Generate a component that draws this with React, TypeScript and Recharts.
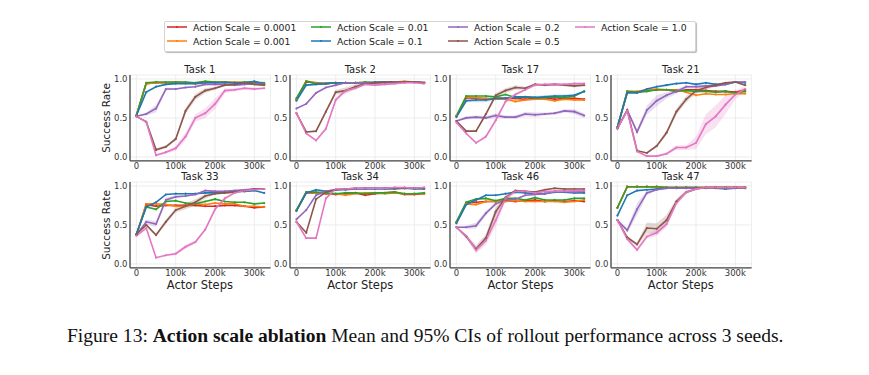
import { ComposedChart, Line, Area, XAxis, YAxis, CartesianGrid } from 'recharts'

const steps = [0, 25000, 50000, 75000, 100000, 125000, 150000, 175000, 200000, 225000, 250000, 275000, 300000, 325000]
const scales = ['0.0001', '0.001', '0.01', '0.1', '0.2', '0.5', '1.0']
const colors = ['#d62728', '#ff7f0e', '#2ca02c', '#1f77b4', '#9467bd', '#8c564b', '#e377c2']
const xTicks = [0, 100000, 200000, 300000]
const yTicks = [0, 0.5, 1]

// mean success rate, one row per action scale (same order as `scales`)
const task1 = [
  [0.53, 0.94, 0.95, 0.95, 0.95, 0.95, 0.95, 0.96, 0.95, 0.96, 0.95, 0.95, 0.95, 0.94],
  [0.53, 0.94, 0.95, 0.95, 0.96, 0.95, 0.94, 0.95, 0.96, 0.95, 0.96, 0.95, 0.94, 0.93],
  [0.53, 0.95, 0.96, 0.96, 0.96, 0.96, 0.95, 0.97, 0.96, 0.96, 0.95, 0.96, 0.96, 0.95],
  [0.53, 0.83, 0.9, 0.93, 0.94, 0.94, 0.94, 0.95, 0.95, 0.95, 0.95, 0.95, 0.97, 0.93],
  [0.52, 0.55, 0.62, 0.87, 0.87, 0.89, 0.9, 0.93, 0.93, 0.93, 0.92, 0.93, 0.94, 0.93],
  [0.52, 0.45, 0.09, 0.13, 0.23, 0.59, 0.77, 0.85, 0.88, 0.92, 0.93, 0.95, 0.93, 0.92],
  [0.52, 0.45, 0.02, 0.06, 0.11, 0.26, 0.5, 0.56, 0.68, 0.85, 0.86, 0.88, 0.87, 0.88],
]
const task2 = [
  [0.73, 0.96, 0.95, 0.94, 0.95, 0.95, 0.95, 0.95, 0.95, 0.96, 0.96, 0.96, 0.96, 0.95],
  [0.74, 0.97, 0.95, 0.94, 0.95, 0.95, 0.95, 0.95, 0.95, 0.96, 0.96, 0.97, 0.96, 0.95],
  [0.75, 0.97, 0.94, 0.94, 0.95, 0.95, 0.95, 0.96, 0.95, 0.95, 0.96, 0.96, 0.96, 0.95],
  [0.72, 0.92, 0.93, 0.94, 0.95, 0.95, 0.95, 0.95, 0.96, 0.96, 0.96, 0.96, 0.96, 0.95],
  [0.62, 0.68, 0.82, 0.89, 0.92, 0.95, 0.95, 0.95, 0.95, 0.95, 0.96, 0.96, 0.96, 0.95],
  [0.56, 0.32, 0.33, 0.58, 0.83, 0.85, 0.9, 0.94, 0.95, 0.96, 0.96, 0.96, 0.96, 0.95],
  [0.56, 0.3, 0.21, 0.36, 0.73, 0.85, 0.88, 0.93, 0.92, 0.93, 0.94, 0.95, 0.95, 0.94],
]
const task17 = [
  [0.52, 0.76, 0.75, 0.74, 0.75, 0.75, 0.75, 0.74, 0.75, 0.76, 0.74, 0.75, 0.75, 0.74],
  [0.53, 0.77, 0.76, 0.75, 0.74, 0.74, 0.71, 0.73, 0.74, 0.74, 0.72, 0.74, 0.73, 0.73],
  [0.52, 0.78, 0.78, 0.78, 0.77, 0.8, 0.76, 0.77, 0.76, 0.76, 0.77, 0.76, 0.78, 0.84],
  [0.51, 0.72, 0.73, 0.73, 0.75, 0.75, 0.77, 0.77, 0.76, 0.77, 0.78, 0.78, 0.79, 0.84],
  [0.46, 0.5, 0.51, 0.5, 0.53, 0.51, 0.51, 0.55, 0.54, 0.55, 0.56, 0.59, 0.58, 0.53],
  [0.46, 0.33, 0.33, 0.55, 0.79, 0.85, 0.89, 0.88, 0.93, 0.92, 0.93, 0.92, 0.91, 0.92],
  [0.44, 0.3, 0.18, 0.26, 0.47, 0.71, 0.8, 0.86, 0.92, 0.93, 0.93, 0.93, 0.94, 0.94],
]
const task21 = [
  [0.38, 0.83, 0.83, 0.85, 0.86, 0.86, 0.84, 0.86, 0.86, 0.85, 0.84, 0.84, 0.83, 0.86],
  [0.38, 0.84, 0.84, 0.86, 0.87, 0.86, 0.86, 0.83, 0.79, 0.81, 0.8, 0.8, 0.81, 0.81],
  [0.37, 0.84, 0.83, 0.84, 0.86, 0.86, 0.85, 0.85, 0.84, 0.84, 0.83, 0.84, 0.82, 0.84],
  [0.38, 0.82, 0.82, 0.87, 0.9, 0.92, 0.94, 0.95, 0.93, 0.95, 0.93, 0.93, 0.96, 0.95],
  [0.36, 0.6, 0.32, 0.6, 0.72, 0.79, 0.84, 0.9, 0.9, 0.91, 0.91, 0.93, 0.96, 0.96],
  [0.37, 0.6, 0.08, 0.05, 0.14, 0.31, 0.58, 0.74, 0.85, 0.89, 0.92, 0.95, 0.96, 0.92],
  [0.37, 0.59, 0.07, 0.01, 0.01, 0.04, 0.12, 0.12, 0.18, 0.42, 0.52, 0.67, 0.8, 0.87],
]
const task33 = [
  [0.37, 0.76, 0.74, 0.75, 0.75, 0.75, 0.75, 0.74, 0.74, 0.75, 0.75, 0.74, 0.72, 0.73],
  [0.37, 0.77, 0.77, 0.76, 0.74, 0.74, 0.77, 0.76, 0.78, 0.77, 0.77, 0.74, 0.74, 0.73],
  [0.38, 0.73, 0.7, 0.8, 0.81, 0.78, 0.77, 0.8, 0.83, 0.8, 0.79, 0.79, 0.77, 0.78],
  [0.38, 0.73, 0.79, 0.89, 0.9, 0.9, 0.9, 0.91, 0.91, 0.92, 0.93, 0.93, 0.94, 0.91],
  [0.37, 0.54, 0.51, 0.82, 0.86, 0.87, 0.89, 0.94, 0.93, 0.93, 0.94, 0.95, 0.96, 0.96],
  [0.38, 0.5, 0.37, 0.54, 0.69, 0.74, 0.79, 0.87, 0.9, 0.91, 0.92, 0.94, 0.96, 0.96],
  [0.36, 0.46, 0.08, 0.11, 0.13, 0.22, 0.28, 0.44, 0.7, 0.84, 0.91, 0.94, 0.95, 0.96],
]
const task34 = [
  [0.68, 0.91, 0.91, 0.9, 0.89, 0.9, 0.91, 0.88, 0.9, 0.91, 0.92, 0.89, 0.89, 0.9],
  [0.68, 0.92, 0.91, 0.9, 0.9, 0.88, 0.9, 0.91, 0.91, 0.9, 0.91, 0.9, 0.9, 0.9],
  [0.69, 0.92, 0.92, 0.91, 0.9, 0.91, 0.91, 0.9, 0.91, 0.91, 0.92, 0.9, 0.9, 0.91],
  [0.68, 0.91, 0.95, 0.93, 0.95, 0.95, 0.96, 0.96, 0.96, 0.96, 0.96, 0.97, 0.96, 0.96],
  [0.57, 0.69, 0.88, 0.93, 0.95, 0.96, 0.96, 0.97, 0.97, 0.97, 0.97, 0.97, 0.97, 0.97],
  [0.54, 0.4, 0.83, 0.92, 0.95, 0.96, 0.97, 0.97, 0.97, 0.97, 0.97, 0.97, 0.97, 0.97],
  [0.54, 0.33, 0.33, 0.84, 0.96, 0.96, 0.97, 0.97, 0.97, 0.97, 0.98, 0.98, 0.97, 0.98],
]
const task46 = [
  [0.53, 0.78, 0.79, 0.8, 0.8, 0.81, 0.8, 0.81, 0.82, 0.8, 0.81, 0.8, 0.81, 0.8],
  [0.53, 0.77, 0.76, 0.8, 0.8, 0.8, 0.81, 0.8, 0.8, 0.8, 0.8, 0.79, 0.8, 0.82],
  [0.54, 0.79, 0.83, 0.84, 0.81, 0.84, 0.84, 0.82, 0.85, 0.82, 0.82, 0.82, 0.84, 0.84],
  [0.52, 0.76, 0.82, 0.88, 0.88, 0.9, 0.92, 0.91, 0.9, 0.9, 0.92, 0.92, 0.91, 0.91],
  [0.47, 0.47, 0.49, 0.65, 0.77, 0.82, 0.83, 0.88, 0.89, 0.9, 0.93, 0.93, 0.92, 0.93],
  [0.47, 0.35, 0.19, 0.33, 0.67, 0.85, 0.94, 0.93, 0.92, 0.95, 0.97, 0.96, 0.96, 0.96],
  [0.47, 0.36, 0.18, 0.3, 0.56, 0.84, 0.93, 0.93, 0.91, 0.93, 0.93, 0.93, 0.94, 0.94],
]
const task47 = [
  [0.72, 0.99, 0.99, 0.99, 0.99, 0.98, 0.98, 0.98, 0.98, 0.98, 0.98, 0.98, 0.98, 0.98],
  [0.72, 0.99, 0.99, 0.99, 0.98, 0.98, 0.98, 0.98, 0.98, 0.98, 0.98, 0.98, 0.98, 0.98],
  [0.72, 0.99, 0.99, 0.99, 0.99, 0.98, 0.98, 0.98, 0.98, 0.98, 0.98, 0.98, 0.98, 0.98],
  [0.62, 0.88, 0.94, 0.95, 0.96, 0.97, 0.97, 0.97, 0.97, 0.97, 0.97, 0.96, 0.97, 0.97],
  [0.56, 0.43, 0.7, 0.91, 0.95, 0.97, 0.97, 0.97, 0.97, 0.97, 0.97, 0.97, 0.97, 0.97],
  [0.56, 0.34, 0.25, 0.46, 0.45, 0.56, 0.8, 0.92, 0.96, 0.98, 0.98, 0.98, 0.98, 0.98],
  [0.56, 0.32, 0.18, 0.35, 0.4, 0.51, 0.78, 0.92, 0.96, 0.98, 0.98, 0.98, 0.98, 0.98],
]

// 95% CI half-widths, only for the series whose band is visible: [series index, widths]
type Ci = [number, number[]][]
const task1Ci: Ci = [
  [4, [0, 0.02, 0.05, 0.02, 0.01, 0.01, 0.01, 0.01, 0.01, 0.01, 0.01, 0.01, 0.01, 0.01]],
  [5, [0, 0.01, 0.02, 0.02, 0.02, 0.04, 0.04, 0.03, 0.02, 0.01, 0.01, 0.01, 0.01, 0.01]],
  [6, [0, 0.01, 0.01, 0.02, 0.03, 0.05, 0.05, 0.06, 0.07, 0.03, 0.02, 0.02, 0.02, 0.01]],
]
const task2Ci: Ci = [
  [5, [0, 0.01, 0.01, 0.02, 0.03, 0.04, 0.03, 0.01, 0.01, 0.01, 0.01, 0.01, 0.01, 0.01]],
  [6, [0, 0.01, 0.01, 0.02, 0.03, 0.02, 0.02, 0.01, 0.01, 0.01, 0.01, 0.01, 0.01, 0.01]],
]
const task17Ci: Ci = [
  [1, [0, 0.01, 0.01, 0.01, 0.01, 0.01, 0.02, 0.01, 0.01, 0.01, 0.02, 0.01, 0.01, 0.01]],
  [3, [0, 0.02, 0.03, 0.03, 0.02, 0.01, 0.01, 0.01, 0.02, 0.02, 0.02, 0.02, 0.02, 0.01]],
  [4, [0, 0.02, 0.02, 0.02, 0.03, 0.02, 0.02, 0.03, 0.03, 0.02, 0.02, 0.02, 0.03, 0.03]],
  [5, [0, 0.01, 0.01, 0.02, 0.03, 0.03, 0.03, 0.02, 0.01, 0.01, 0.01, 0.01, 0.02, 0.01]],
  [6, [0, 0.01, 0.01, 0.02, 0.02, 0.02, 0.02, 0.01, 0.01, 0.01, 0.01, 0.01, 0.01, 0.01]],
]
const task21Ci: Ci = [
  [4, [0, 0.02, 0.03, 0.06, 0.07, 0.04, 0.03, 0.02, 0.02, 0.02, 0.01, 0.01, 0.01, 0.01]],
  [5, [0, 0.01, 0.01, 0.01, 0.02, 0.03, 0.04, 0.04, 0.04, 0.03, 0.02, 0.01, 0.01, 0.01]],
  [6, [0, 0.01, 0.01, 0.01, 0.01, 0.02, 0.03, 0.03, 0.08, 0.13, 0.14, 0.12, 0.06, 0.03]],
]
const task33Ci: Ci = [
  [4, [0, 0.03, 0.04, 0.03, 0.02, 0.01, 0.01, 0.01, 0.01, 0.01, 0.01, 0.01, 0.01, 0.01]],
  [5, [0, 0.01, 0.02, 0.03, 0.03, 0.04, 0.04, 0.03, 0.01, 0.01, 0.01, 0.01, 0.01, 0.01]],
  [6, [0, 0.01, 0.01, 0.01, 0.02, 0.03, 0.02, 0.02, 0.02, 0.02, 0.01, 0.01, 0.01, 0.01]],
]
const task34Ci: Ci = [
  [6, [0, 0.01, 0.01, 0.02, 0.01, 0.01, 0.01, 0.01, 0.01, 0.01, 0.01, 0.01, 0.01, 0.01]],
]
const task46Ci: Ci = [
  [4, [0, 0.02, 0.04, 0.03, 0.02, 0.01, 0.01, 0.01, 0.01, 0.01, 0.01, 0.01, 0.01, 0.01]],
  [5, [0, 0.02, 0.05, 0.05, 0.06, 0.03, 0.01, 0.01, 0.01, 0.01, 0.01, 0.01, 0.01, 0.01]],
  [6, [0, 0.02, 0.04, 0.06, 0.08, 0.04, 0.02, 0.01, 0.01, 0.01, 0.01, 0.01, 0.01, 0.01]],
]
const task47Ci: Ci = [
  [4, [0, 0.03, 0.08, 0.03, 0.01, 0.01, 0.01, 0.01, 0.01, 0.01, 0.01, 0.01, 0.01, 0.01]],
  [5, [0, 0.02, 0.02, 0.07, 0.07, 0.07, 0.04, 0.02, 0.01, 0.01, 0.01, 0.01, 0.01, 0.01]],
  [6, [0, 0.02, 0.03, 0.03, 0.04, 0.04, 0.03, 0.02, 0.01, 0.01, 0.01, 0.01, 0.01, 0.01]],
]

const titles = ['Task 1', 'Task 2', 'Task 17', 'Task 21', 'Task 33', 'Task 34', 'Task 46', 'Task 47']
const means = [task1, task2, task17, task21, task33, task34, task46, task47]
const cis = [task1Ci, task2Ci, task17Ci, task21Ci, task33Ci, task34Ci, task46Ci, task47Ci]

const FONT = '"DejaVu Sans", sans-serif'
const PLOT_W = 140.6
const PLOT_H = 85.8
const Y_AXIS_W = 30
const X_AXIS_H = 14
const PAD = 5

const fmtK = (v: number) => (v === 0 ? '0' : `${v / 1000}k`)

function Panel({ idx }: { idx: number }) {
  const col = idx % 4
  const row = Math.floor(idx / 4)
  const plotLeft = 129.6 + col * 160.3
  const plotTop = 75.1 + row * 107
  const mean = means[idx]
  const ci = cis[idx]

  const data = steps.map((x, i) => {
    const r: Record<string, any> = { x }
    mean.forEach((s, k) => (r[`m${k}`] = s[i]))
    ci.forEach(([k, w]) => (r[`c${k}`] = [mean[k][i] - w[i], mean[k][i] + w[i]]))
    return r
  })

  const tick = { fontSize: 8.5, fill: '#333', fontFamily: FONT }
  const spine = { stroke: '#444', strokeWidth: 1.3 }

  return (
    <>
      <div
        style={{
          position: 'absolute', left: plotLeft, width: PLOT_W, top: plotTop - 11.5,
          textAlign: 'center', fontFamily: FONT, fontSize: 10, lineHeight: '12px', color: '#222',
        }}
      >
        {titles[idx]}
      </div>
      <div style={{ position: 'absolute', left: plotLeft - Y_AXIS_W, top: plotTop - PAD }}>
        <ComposedChart
          width={Y_AXIS_W + PLOT_W + PAD}
          height={PAD + PLOT_H + X_AXIS_H}
          data={data}
          margin={{ top: PAD, right: PAD, left: 0, bottom: 0 }}
        >
          <CartesianGrid stroke="#e9e9e9" strokeWidth={0.8} />
          <XAxis
            type="number"
            dataKey="x"
            domain={[-16250, 341250]}
            ticks={xTicks}
            tickFormatter={fmtK}
            height={X_AXIS_H}
            tickLine={false}
            tickSize={0}
            tickMargin={2}
            axisLine={spine}
            tick={tick}
            allowDataOverflow
          />
          <YAxis
            type="number"
            domain={[-0.05, 1.05]}
            ticks={yTicks}
            tickFormatter={(v: number) => v.toFixed(1)}
            width={Y_AXIS_W}
            tickLine={false}
            tickSize={0}
            tickMargin={2.5}
            axisLine={spine}
            tick={tick}
            allowDataOverflow
          />
          {ci.map(([k]) => (
            <Area
              key={`c${k}`}
              type="linear"
              dataKey={`c${k}`}
              stroke="none"
              fill={colors[k]}
              fillOpacity={0.22}
              dot={false}
              activeDot={false}
              isAnimationActive={false}
            />
          ))}
          {scales.map((_, k) => (
            <Line
              key={`m${k}`}
              type="linear"
              dataKey={`m${k}`}
              stroke={colors[k]}
              strokeWidth={1.6}
              dot={{ r: 1.1, fill: colors[k], stroke: colors[k], strokeWidth: 0 }}
              activeDot={false}
              isAnimationActive={false}
            />
          ))}
        </ComposedChart>
      </div>
    </>
  )
}

const legendCols = [167, 311, 448, 575]

function Legend() {
  return (
    <>
      <div
        style={{
          position: 'absolute', left: 164, top: 20.5, width: 530, height: 29,
          border: '1px solid #d4d4d4', borderRadius: 2, boxShadow: '1px 1px 1px #b8b8b8', background: '#fff',
        }}
      />
      {scales.map((s, k) => {
        const c = Math.floor(k / 2)
        const r = k % 2
        const x = legendCols[c]
        const y = r === 0 ? 27.3 : 41
        return (
          <div key={s} style={{ position: 'absolute', left: x, top: y - 6, height: 12, display: 'flex', alignItems: 'center' }}>
            <svg width={20} height={12} style={{ display: 'block' }}>
              <line x1={0} y1={6} x2={20} y2={6} stroke={colors[k]} strokeWidth={1.5} />
              <circle cx={10} cy={6} r={1.1} fill={colors[k]} />
            </svg>
            <span style={{ marginLeft: 6, fontFamily: FONT, fontSize: 9.3, color: '#222', whiteSpace: 'nowrap' }}>
              Action Scale = {s}
            </span>
          </div>
        )
      })}
    </>
  )
}

function AxisLabels() {
  return (
    <>
      {[0, 1].map((row) => (
        <div
          key={`y${row}`}
          style={{
            position: 'absolute', left: 106 - 40, top: 118 + row * 107 - 6, width: 80, height: 12,
            transform: 'rotate(-90deg)', textAlign: 'center', fontFamily: FONT, fontSize: 10.5,
            lineHeight: '12px', color: '#222',
          }}
        >
          Success Rate
        </div>
      ))}
      {[0, 1, 2, 3].map((col) => (
        <div
          key={`x${col}`}
          style={{
            position: 'absolute', left: 129.6 + col * 160.3, width: PLOT_W, top: 285 - 6.5,
            textAlign: 'center', fontFamily: FONT, fontSize: 11.5, lineHeight: '13px', color: '#222',
          }}
        >
          Actor Steps
        </div>
      ))}
    </>
  )
}

export default function App() {
  return (
    <div style={{ position: 'absolute', left: 0, top: 0, width: 869, height: 375, background: '#fff', overflow: 'hidden' }}>
      <Legend />
      {titles.map((_, i) => (
        <Panel key={i} idx={i} />
      ))}
      <AxisLabels />
      <div
        style={{
          position: 'absolute', left: 67, top: 326, whiteSpace: 'nowrap',
          fontFamily: '"Liberation Serif", serif', fontSize: 18, lineHeight: '20px', color: '#111',
          transform: 'scaleX(1.085)', transformOrigin: 'left center',
        }}
      >
        Figure 13: <b>Action scale ablation</b> Mean and 95% CIs of rollout performance across 3 seeds.
      </div>
    </div>
  )
}
